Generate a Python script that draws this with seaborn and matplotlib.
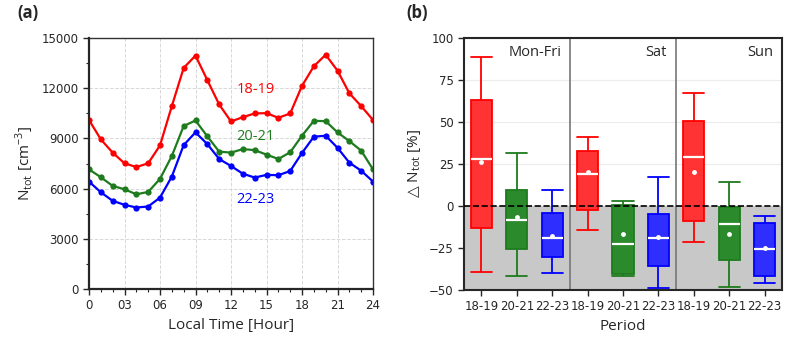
import matplotlib
matplotlib.use("Agg")
import matplotlib.pyplot as plt
import seaborn as sns
import numpy as np
import pandas as pd
from matplotlib.ticker import MultipleLocator

# (a) 日变化数据
hours = list(range(25))
n_1819 = [10100, 8940, 8150, 7510, 7290, 7510, 8580, 10930, 13210, 13950, 12480, 11030, 10010,
          10270, 10490, 10510, 10230, 10490, 12140, 13310, 14000, 13050, 11700, 10930, 10100]
n_2021 = [7150, 6680, 6160, 5960, 5660, 5800, 6580, 7950, 9740, 10070, 9120, 8210, 8150,
          8360, 8300, 8030, 7770, 8170, 9160, 10050, 10030, 9360, 8840, 8270, 7150]
n_2223 = [6420, 5780, 5270, 5030, 4870, 4930, 5460, 6720, 8600, 9360, 8660, 7770, 7350,
          6890, 6660, 6820, 6800, 7050, 8130, 9100, 9160, 8440, 7550, 7070, 6420]

# (b) 箱线图统计量 (low whisker, Q1, median, Q3, high whisker) + mean
groups = ["Mon-Fri", "Sat", "Sun"]
periods = ["18-19", "20-21", "22-23"]
box_stats = {
    ("Mon-Fri", "18-19"): [-39.1, -12.9, 27.9, 63.1, 88.9],
    ("Mon-Fri", "20-21"): [-41.5, -25.8, -8.4, 9.8, 31.8],
    ("Mon-Fri", "22-23"): [-39.9, -30.2, -19.3, -4.0, 9.3],
    ("Sat", "18-19"): [-14.1, -2.6, 18.8, 32.6, 41.2],
    ("Sat", "20-21"): [-41.7, -40.7, -22.4, 0.5, 2.9],
    ("Sat", "22-23"): [-48.8, -35.5, -18.9, -4.6, 17.0],
    ("Sun", "18-19"): [-21.3, -9.2, 28.9, 50.3, 67.3],
    ("Sun", "20-21"): [-48.4, -32.0, -10.8, -0.5, 14.4],
    ("Sun", "22-23"): [-45.6, -41.5, -25.6, -10.0, -5.8],
}
means = {
    ("Mon-Fri", "18-19"): 25.9, ("Mon-Fri", "20-21"): -6.4, ("Mon-Fri", "22-23"): -18.1,
    ("Sat", "18-19"): 20.0, ("Sat", "20-21"): -16.5, ("Sat", "22-23"): -18.3,
    ("Sun", "18-19"): 20.2, ("Sun", "20-21"): -16.5, ("Sun", "22-23"): -25.2,
}

line_colors = {"18-19": "#ff0000", "20-21": "#1e7b1e", "22-23": "#0000ff"}
fill_colors = {"18-19": "#ff3333", "20-21": "#2b8a2b", "22-23": "#2e2eff"}

sns.set_style("ticks")
plt.rcParams["font.family"] = ["DejaVu Sans"]
label_font = ["Open Sans", "DejaVu Sans"]

fig = plt.figure(figsize=(8, 3.4), dpi=100)
ax1 = fig.add_axes([89 / 800, 1 - 289 / 340, 284 / 800, 251 / 340])
ax2 = fig.add_axes([464 / 800, 1 - 290 / 340, 318 / 800, 252 / 340])

# ---- (a) ----
df_a = pd.DataFrame({"hour": hours * 3,
                     "N": n_1819 + n_2021 + n_2223,
                     "period": ["18-19"] * 25 + ["20-21"] * 25 + ["22-23"] * 25})
sns.lineplot(data=df_a, x="hour", y="N", hue="period", palette=line_colors,
             marker="o", markersize=4.5, markeredgewidth=0, linewidth=1.6,
             legend=False, ax=ax1)
ax1.set_xlim(0, 24)
ax1.set_ylim(0, 15000)
ax1.xaxis.set_major_locator(MultipleLocator(3))
ax1.xaxis.set_minor_locator(MultipleLocator(1))
ax1.yaxis.set_major_locator(MultipleLocator(3000))
ax1.yaxis.set_minor_locator(MultipleLocator(1500))
ax1.set_xticklabels(["0" if t == 0 else f"{int(t):02d}" for t in ax1.get_xticks()])
ax1.grid(True, which="major", linestyle="--", color="#d8d8d8", linewidth=0.7)
ax1.set_xlabel("Local Time [Hour]", fontsize=11, family=label_font)
ax1.set_ylabel(r"N$_\mathregular{tot}$ [cm$^\mathregular{-3}$]", fontsize=11, family=label_font)
ax1.tick_params(labelsize=8.5, direction="out", length=4, width=1)
ax1.tick_params(which="minor", length=2.5, width=0.8)
for side in ["left", "bottom"]:
    ax1.spines[side].set_linewidth(1.6)
for side in ["top", "right"]:
    ax1.spines[side].set_linewidth(1.0)
    ax1.spines[side].set_color("#333333")
ax1.text(14.1, 11900, "18-19", color=line_colors["18-19"], fontsize=10.5, ha="center", va="center",
         family=label_font)
ax1.text(14.1, 9100, "20-21", color=line_colors["20-21"], fontsize=10.5, ha="center", va="center",
         family=label_font)
ax1.text(14.1, 5350, "22-23", color=line_colors["22-23"], fontsize=10.5, ha="center", va="center",
         family=label_font)

# ---- (b) ----
order = [f"{g} {p}" for g in groups for p in periods]
rows = []
for g in groups:
    for p in periods:
        for v in box_stats[(g, p)]:
            rows.append({"key": f"{g} {p}", "period": p, "val": v})
df_b = pd.DataFrame(rows)
df_m = pd.DataFrame([{"key": f"{g} {p}", "mean": means[(g, p)]} for g in groups for p in periods])

ax2.axhspan(-50, 0, color="#c8c8c8", zorder=0.8)
box_w = 0.6
for p in periods:
    sub = df_b[df_b["period"] == p]
    sns.boxplot(data=sub, x="key", y="val", order=order, whis=(0, 100), width=box_w,
                color=fill_colors[p], linecolor=line_colors[p], saturation=1, linewidth=1.3,
                medianprops={"color": "white", "linewidth": 1.6}, ax=ax2)

# 须线端帽与箱体同宽
for ln in ax2.lines:
    xd, yd = np.asarray(ln.get_xdata(), float), np.asarray(ln.get_ydata(), float)
    if len(xd) == 2 and yd[0] == yd[1] and xd[0] != xd[1] and ln.get_color() != "white":
        c = xd.mean()
        ln.set_xdata([c - box_w / 2, c + box_w / 2])

sns.stripplot(data=df_m, x="key", y="mean", order=order, jitter=False, color="white",
              size=3.5, linewidth=0, zorder=5, ax=ax2)
ax2.axhline(0, color="black", linestyle="--", linewidth=1.2, zorder=4)
for xv in [2.5, 5.5]:
    ax2.axvline(xv, color="#777777", linewidth=1.2, zorder=1)
ax2.set_xlim(-0.49, 8.49)
ax2.set_ylim(-50, 100)
ax2.yaxis.set_major_locator(MultipleLocator(25))
ax2.grid(True, axis="y", color="#ececec", linewidth=0.8)
ax2.set_axisbelow(True)
ax2.set_xticks(range(9))
ax2.set_xticklabels(periods * 3)
ax2.set_xlabel("Period", fontsize=11, family=label_font)
ax2.set_ylabel(r"$\triangle$N$_\mathregular{tot}$ [%]", fontsize=11, family=label_font)
ax2.tick_params(labelsize=8.5, direction="out", length=4, width=1)
for side in ax2.spines:
    ax2.spines[side].set_linewidth(1.5)
for i, g in enumerate(groups):
    ax2.text(2.26 + 3 * i - (0 if i == 0 else 0.02), 91.5, g, fontsize=10.5, ha="right", va="center",
             family=label_font)

fig.text(17 / 800, 1 - 13 / 340, "(a)", fontsize=12, fontweight="bold", va="center", family=label_font)
fig.text(406 / 800, 1 - 13 / 340, "(b)", fontsize=12, fontweight="bold", va="center", family=label_font)

fig.savefig("out.png", dpi=100)
